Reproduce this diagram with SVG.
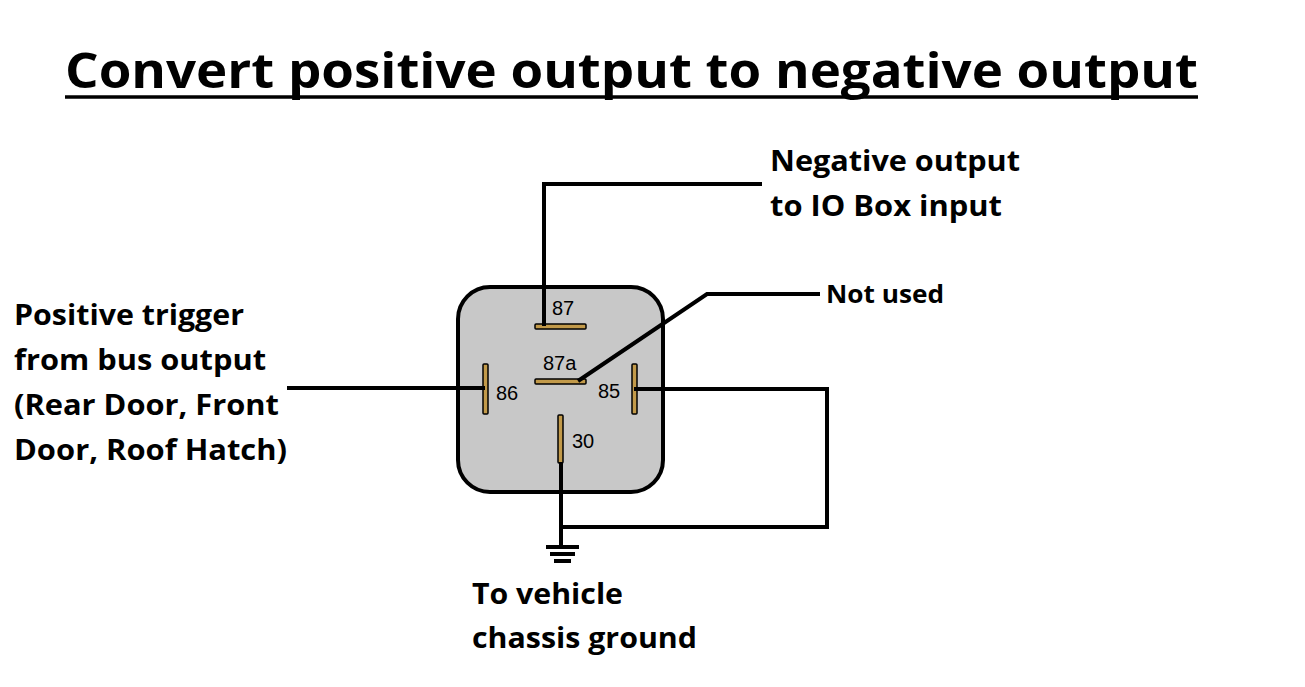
<svg xmlns="http://www.w3.org/2000/svg" width="1305" height="687" viewBox="0 0 1305 687">
<style>
.t{font-family:"Open Sans","Liberation Sans",sans-serif;font-weight:bold;fill:#000}
.lbl{font-size:28px}
.pin{font-family:"Liberation Sans",Arial,sans-serif;font-size:20px;fill:#000}
.w{stroke:#000;stroke-width:4;fill:none}
.p{fill:#c29a4a;stroke:#000;stroke-width:1.5}
</style>
<rect width="1305" height="687" fill="#fff"/>
<g id="title">
<text class="t" x="65" y="88" font-size="48" textLength="1133" lengthAdjust="spacingAndGlyphs">Convert positive output to negative output</text>
<line x1="65" y1="97" x2="1198" y2="97" stroke="#000" stroke-width="3.5"/>
</g>
<g id="relay">
<rect x="458" y="287" width="205" height="205" rx="32" fill="#c8c8c8" stroke="#000" stroke-width="4"/>
<rect class="p" x="535" y="324" width="51" height="5" rx="1"/>
<rect class="p" x="535" y="379" width="51" height="5" rx="1"/>
<rect class="p" x="483" y="364" width="5" height="50" rx="1"/>
<rect class="p" x="632" y="364" width="5" height="50" rx="1"/>
<rect class="p" x="558" y="415" width="5" height="48" rx="1"/>
<text class="pin" x="552" y="315">87</text>
<text class="pin" x="543" y="370">87a</text>
<text class="pin" x="496" y="400">86</text>
<text class="pin" x="598" y="398">85</text>
<text class="pin" x="572" y="448">30</text>
</g>
<g id="connectors">
<polyline class="w" points="544,326 544,184 762,184"/>
<polyline class="w" points="578,381 707,294 820,294"/>
<line class="w" x1="287" y1="388" x2="485" y2="388"/>
<polyline class="w" points="634,389 827,389 827,527 562,527"/>
<line class="w" x1="561" y1="462" x2="561" y2="546"/>
</g>
<g id="ground">
<line class="w" x1="546" y1="547" x2="579" y2="547"/>
<line class="w" x1="550" y1="554" x2="575" y2="554"/>
<line class="w" x1="554" y1="561" x2="571" y2="561"/>
</g>
<g id="labels">
<text class="t lbl" x="770" y="171" textLength="250" lengthAdjust="spacingAndGlyphs">Negative output</text>
<text class="t lbl" x="770" y="216" textLength="232" lengthAdjust="spacingAndGlyphs">to IO Box input</text>
<text class="t" font-size="25" x="826" y="303" textLength="118" lengthAdjust="spacingAndGlyphs">Not used</text>
<text class="t lbl" x="14" y="325" textLength="230" lengthAdjust="spacingAndGlyphs">Positive trigger</text>
<text class="t lbl" x="14" y="370" textLength="252" lengthAdjust="spacingAndGlyphs">from bus output</text>
<text class="t lbl" x="14" y="415" textLength="265" lengthAdjust="spacingAndGlyphs">(Rear Door, Front</text>
<text class="t lbl" x="14" y="460" textLength="273" lengthAdjust="spacingAndGlyphs">Door, Roof Hatch)</text>
<text class="t lbl" x="472" y="604" textLength="151" lengthAdjust="spacingAndGlyphs">To vehicle</text>
<text class="t lbl" x="472" y="648" textLength="225" lengthAdjust="spacingAndGlyphs">chassis ground</text>
</g>
</svg>
